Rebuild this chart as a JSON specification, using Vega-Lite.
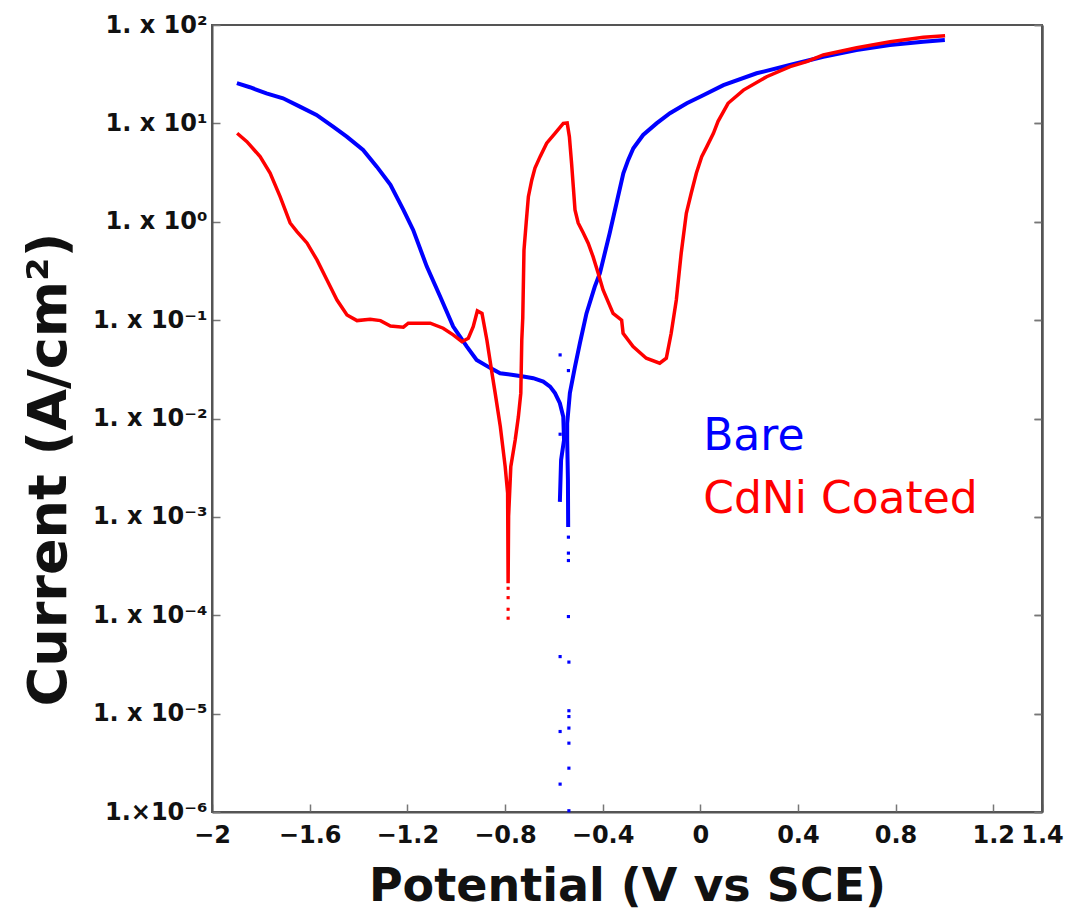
{
  "$schema": "https://vega.github.io/schema/vega-lite/v6.json",
  "width": 830,
  "height": 787,
  "autosize": {"type": "none"},
  "padding": {"left": 212, "top": 25, "right": 27, "bottom": 101},
  "background": "white",
  "config": {
    "view": {"stroke": "#555555", "strokeWidth": 2},
    "font": "DejaVu Sans",
    "axisX": {
      "labelFont": "DejaVu Sans", "labelFontWeight": "bold", "labelFontSize": 24, "labelColor": "#111111",
      "labelPadding": 19, "labelOverlap": false, "labelFlush": false,
      "domainColor": "#555555", "domainWidth": 2,
      "tickColor": "#777777", "tickSize": -8, "tickWidth": 1.5,
      "grid": false,
      "titleFont": "DejaVu Sans", "titleFontSize": 46, "titleFontWeight": "bold", "titleColor": "#111111",
      "titleY": 52, "titleBaseline": "top"
    }
  },
  "datasets": {
    "lines": [
      {"s":"Bare","g":"b1","i":1,"v":-1.898,"c":25.6},
      {"s":"Bare","g":"b1","i":2,"v":-1.845,"c":23.3},
      {"s":"Bare","g":"b1","i":3,"v":-1.777,"c":20.2},
      {"s":"Bare","g":"b1","i":4,"v":-1.709,"c":18.0},
      {"s":"Bare","g":"b1","i":5,"v":-1.640,"c":14.8},
      {"s":"Bare","g":"b1","i":6,"v":-1.572,"c":12.2},
      {"s":"Bare","g":"b1","i":7,"v":-1.504,"c":9.25},
      {"s":"Bare","g":"b1","i":8,"v":-1.448,"c":7.33},
      {"s":"Bare","g":"b1","i":9,"v":-1.381,"c":5.37},
      {"s":"Bare","g":"b1","i":10,"v":-1.325,"c":3.63},
      {"s":"Bare","g":"b1","i":11,"v":-1.269,"c":2.37},
      {"s":"Bare","g":"b1","i":12,"v":-1.216,"c":1.32},
      {"s":"Bare","g":"b1","i":13,"v":-1.176,"c":0.826},
      {"s":"Bare","g":"b1","i":14,"v":-1.120,"c":0.350},
      {"s":"Bare","g":"b1","i":15,"v":-1.065,"c":0.173},
      {"s":"Bare","g":"b1","i":16,"v":-1.012,"c":0.0859},
      {"s":"Bare","g":"b1","i":17,"v":-0.956,"c":0.0538},
      {"s":"Bare","g":"b1","i":18,"v":-0.916,"c":0.0394},
      {"s":"Bare","g":"b1","i":19,"v":-0.861,"c":0.0327},
      {"s":"Bare","g":"b1","i":20,"v":-0.820,"c":0.0288},
      {"s":"Bare","g":"b1","i":21,"v":-0.766,"c":0.0277},
      {"s":"Bare","g":"b1","i":22,"v":-0.725,"c":0.0267},
      {"s":"Bare","g":"b1","i":23,"v":-0.684,"c":0.0257},
      {"s":"Bare","g":"b1","i":24,"v":-0.643,"c":0.0237},
      {"s":"Bare","g":"b1","i":25,"v":-0.615,"c":0.0211},
      {"s":"Bare","g":"b1","i":26,"v":-0.595,"c":0.0181},
      {"s":"Bare","g":"b1","i":27,"v":-0.575,"c":0.0143},
      {"s":"Bare","g":"b1","i":28,"v":-0.561,"c":0.0104},
      {"s":"Bare","g":"b1","i":29,"v":-0.558,"c":0.00605},
      {"s":"Bare","g":"b1","i":30,"v":-0.570,"c":0.00379},
      {"s":"Bare","g":"b1","i":31,"v":-0.575,"c":0.00142},
      {"s":"Bare","g":"b2","i":32,"v":-0.541,"c":0.000791},
      {"s":"Bare","g":"b2","i":33,"v":-0.542,"c":0.00238},
      {"s":"Bare","g":"b2","i":34,"v":-0.545,"c":0.00605},
      {"s":"Bare","g":"b2","i":35,"v":-0.545,"c":0.00895},
      {"s":"Bare","g":"b2","i":36,"v":-0.534,"c":0.0181},
      {"s":"Bare","g":"b2","i":37,"v":-0.513,"c":0.0337},
      {"s":"Bare","g":"b2","i":38,"v":-0.493,"c":0.0582},
      {"s":"Bare","g":"b2","i":39,"v":-0.466,"c":0.117},
      {"s":"Bare","g":"b2","i":40,"v":-0.432,"c":0.219},
      {"s":"Bare","g":"b2","i":41,"v":-0.411,"c":0.300},
      {"s":"Bare","g":"b2","i":42,"v":-0.371,"c":0.764},
      {"s":"Bare","g":"b2","i":43,"v":-0.343,"c":1.54},
      {"s":"Bare","g":"b2","i":44,"v":-0.315,"c":3.11},
      {"s":"Bare","g":"b2","i":45,"v":-0.295,"c":4.25},
      {"s":"Bare","g":"b2","i":46,"v":-0.274,"c":5.58},
      {"s":"Bare","g":"b2","i":47,"v":-0.234,"c":7.62},
      {"s":"Bare","g":"b2","i":48,"v":-0.179,"c":10.0},
      {"s":"Bare","g":"b2","i":49,"v":-0.124,"c":12.7},
      {"s":"Bare","g":"b2","i":50,"v":-0.055,"c":16.0},
      {"s":"Bare","g":"b2","i":51,"v":0.006,"c":19.0},
      {"s":"Bare","g":"b2","i":52,"v":0.095,"c":24.5},
      {"s":"Bare","g":"b2","i":53,"v":0.231,"c":32.3},
      {"s":"Bare","g":"b2","i":54,"v":0.367,"c":39.2},
      {"s":"Bare","g":"b2","i":55,"v":0.504,"c":47.6},
      {"s":"Bare","g":"b2","i":56,"v":0.640,"c":55.7},
      {"s":"Bare","g":"b2","i":57,"v":0.777,"c":62.6},
      {"s":"Bare","g":"b2","i":58,"v":0.913,"c":67.7},
      {"s":"Bare","g":"b2","i":59,"v":1.002,"c":70.4},
      {"s":"CdNi Coated","g":"r1","i":60,"v":-1.897,"c":7.93},
      {"s":"CdNi Coated","g":"r1","i":61,"v":-1.857,"c":6.52},
      {"s":"CdNi Coated","g":"r1","i":62,"v":-1.803,"c":4.59},
      {"s":"CdNi Coated","g":"r1","i":63,"v":-1.762,"c":3.13},
      {"s":"CdNi Coated","g":"r1","i":64,"v":-1.721,"c":1.80},
      {"s":"CdNi Coated","g":"r1","i":65,"v":-1.680,"c":0.972},
      {"s":"CdNi Coated","g":"r1","i":66,"v":-1.652,"c":0.793},
      {"s":"CdNi Coated","g":"r1","i":67,"v":-1.611,"c":0.609},
      {"s":"CdNi Coated","g":"r1","i":68,"v":-1.570,"c":0.409},
      {"s":"CdNi Coated","g":"r1","i":69,"v":-1.529,"c":0.256},
      {"s":"CdNi Coated","g":"r1","i":70,"v":-1.488,"c":0.160},
      {"s":"CdNi Coated","g":"r1","i":71,"v":-1.447,"c":0.113},
      {"s":"CdNi Coated","g":"r1","i":72,"v":-1.406,"c":0.0989},
      {"s":"CdNi Coated","g":"r1","i":73,"v":-1.352,"c":0.102},
      {"s":"CdNi Coated","g":"r1","i":74,"v":-1.310,"c":0.0989},
      {"s":"CdNi Coated","g":"r1","i":75,"v":-1.269,"c":0.0873},
      {"s":"CdNi Coated","g":"r1","i":76,"v":-1.216,"c":0.0847},
      {"s":"CdNi Coated","g":"r1","i":77,"v":-1.196,"c":0.0930},
      {"s":"CdNi Coated","g":"r1","i":78,"v":-1.106,"c":0.0930},
      {"s":"CdNi Coated","g":"r1","i":79,"v":-1.053,"c":0.0828},
      {"s":"CdNi Coated","g":"r1","i":80,"v":-1.012,"c":0.0708},
      {"s":"CdNi Coated","g":"r1","i":81,"v":-0.976,"c":0.0604},
      {"s":"CdNi Coated","g":"r1","i":82,"v":-0.950,"c":0.0655},
      {"s":"CdNi Coated","g":"r1","i":83,"v":-0.930,"c":0.0859},
      {"s":"CdNi Coated","g":"r1","i":84,"v":-0.913,"c":0.124},
      {"s":"CdNi Coated","g":"r1","i":85,"v":-0.894,"c":0.117},
      {"s":"CdNi Coated","g":"r1","i":86,"v":-0.874,"c":0.0629},
      {"s":"CdNi Coated","g":"r1","i":87,"v":-0.853,"c":0.0288},
      {"s":"CdNi Coated","g":"r1","i":88,"v":-0.840,"c":0.0181},
      {"s":"CdNi Coated","g":"r1","i":89,"v":-0.819,"c":0.00828},
      {"s":"CdNi Coated","g":"r1","i":90,"v":-0.799,"c":0.00324},
      {"s":"CdNi Coated","g":"r1","i":91,"v":-0.789,"c":0.00174},
      {"s":"CdNi Coated","g":"r1","i":92,"v":-0.787,"c":0.000212},
      {"s":"CdNi Coated","g":"r1","i":93,"v":-0.785,"c":0.00101},
      {"s":"CdNi Coated","g":"r1","i":94,"v":-0.776,"c":0.00324},
      {"s":"CdNi Coated","g":"r1","i":95,"v":-0.758,"c":0.00605},
      {"s":"CdNi Coated","g":"r1","i":96,"v":-0.745,"c":0.0104},
      {"s":"CdNi Coated","g":"r1","i":97,"v":-0.735,"c":0.0181},
      {"s":"CdNi Coated","g":"r1","i":98,"v":-0.731,"c":0.0629},
      {"s":"CdNi Coated","g":"r1","i":99,"v":-0.727,"c":0.105},
      {"s":"CdNi Coated","g":"r1","i":100,"v":-0.722,"c":0.516},
      {"s":"CdNi Coated","g":"r1","i":101,"v":-0.713,"c":0.972},
      {"s":"CdNi Coated","g":"r1","i":102,"v":-0.704,"c":1.80},
      {"s":"CdNi Coated","g":"r1","i":103,"v":-0.690,"c":2.66},
      {"s":"CdNi Coated","g":"r1","i":104,"v":-0.677,"c":3.52},
      {"s":"CdNi Coated","g":"r1","i":105,"v":-0.656,"c":4.59},
      {"s":"CdNi Coated","g":"r1","i":106,"v":-0.629,"c":6.28},
      {"s":"CdNi Coated","g":"r1","i":107,"v":-0.595,"c":7.93},
      {"s":"CdNi Coated","g":"r1","i":108,"v":-0.561,"c":10.0},
      {"s":"CdNi Coated","g":"r1","i":109,"v":-0.545,"c":10.1},
      {"s":"CdNi Coated","g":"r1","i":110,"v":-0.536,"c":7.33},
      {"s":"CdNi Coated","g":"r1","i":111,"v":-0.527,"c":3.93},
      {"s":"CdNi Coated","g":"r1","i":112,"v":-0.520,"c":2.27},
      {"s":"CdNi Coated","g":"r1","i":113,"v":-0.513,"c":1.32},
      {"s":"CdNi Coated","g":"r1","i":114,"v":-0.500,"c":0.972},
      {"s":"CdNi Coated","g":"r1","i":115,"v":-0.479,"c":0.769},
      {"s":"CdNi Coated","g":"r1","i":116,"v":-0.459,"c":0.605},
      {"s":"CdNi Coated","g":"r1","i":117,"v":-0.439,"c":0.442},
      {"s":"CdNi Coated","g":"r1","i":118,"v":-0.418,"c":0.300},
      {"s":"CdNi Coated","g":"r1","i":119,"v":-0.398,"c":0.203},
      {"s":"CdNi Coated","g":"r1","i":120,"v":-0.357,"c":0.117},
      {"s":"CdNi Coated","g":"r1","i":121,"v":-0.322,"c":0.100},
      {"s":"CdNi Coated","g":"r1","i":122,"v":-0.316,"c":0.0736},
      {"s":"CdNi Coated","g":"r1","i":123,"v":-0.275,"c":0.0538},
      {"s":"CdNi Coated","g":"r1","i":124,"v":-0.221,"c":0.0410},
      {"s":"CdNi Coated","g":"r1","i":125,"v":-0.166,"c":0.0365},
      {"s":"CdNi Coated","g":"r1","i":126,"v":-0.139,"c":0.0410},
      {"s":"CdNi Coated","g":"r1","i":127,"v":-0.119,"c":0.0736},
      {"s":"CdNi Coated","g":"r1","i":128,"v":-0.098,"c":0.160},
      {"s":"CdNi Coated","g":"r1","i":129,"v":-0.078,"c":0.479},
      {"s":"CdNi Coated","g":"r1","i":130,"v":-0.057,"c":1.22},
      {"s":"CdNi Coated","g":"r1","i":131,"v":-0.037,"c":1.95},
      {"s":"CdNi Coated","g":"r1","i":132,"v":-0.016,"c":3.11},
      {"s":"CdNi Coated","g":"r1","i":133,"v":0.006,"c":4.59},
      {"s":"CdNi Coated","g":"r1","i":134,"v":0.027,"c":5.80},
      {"s":"CdNi Coated","g":"r1","i":135,"v":0.054,"c":7.93},
      {"s":"CdNi Coated","g":"r1","i":136,"v":0.073,"c":10.5},
      {"s":"CdNi Coated","g":"r1","i":137,"v":0.114,"c":16.0},
      {"s":"CdNi Coated","g":"r1","i":138,"v":0.177,"c":21.8},
      {"s":"CdNi Coated","g":"r1","i":139,"v":0.272,"c":29.8},
      {"s":"CdNi Coated","g":"r1","i":140,"v":0.368,"c":37.7},
      {"s":"CdNi Coated","g":"r1","i":141,"v":0.436,"c":42.4},
      {"s":"CdNi Coated","g":"r1","i":142,"v":0.504,"c":49.6},
      {"s":"CdNi Coated","g":"r1","i":143,"v":0.641,"c":58.8},
      {"s":"CdNi Coated","g":"r1","i":144,"v":0.778,"c":67.7},
      {"s":"CdNi Coated","g":"r1","i":145,"v":0.914,"c":75.0},
      {"s":"CdNi Coated","g":"r1","i":146,"v":1.003,"c":77.9}
    ],
    "dots": [
      {"s":"Bare","v":-0.574,"c":0.0443},
      {"s":"Bare","v":-0.540,"c":0.0307},
      {"s":"Bare","v":-0.574,"c":0.00692},
      {"s":"Bare","v":-0.540,"c":0.000622},
      {"s":"Bare","v":-0.540,"c":0.000428},
      {"s":"Bare","v":-0.540,"c":0.000360},
      {"s":"Bare","v":-0.540,"c":0.0000970},
      {"s":"Bare","v":-0.574,"c":0.0000380},
      {"s":"Bare","v":-0.538,"c":0.0000334},
      {"s":"Bare","v":-0.538,"c":0.0000107},
      {"s":"Bare","v":-0.538,"c":0.00000934},
      {"s":"Bare","v":-0.574,"c":0.00000658},
      {"s":"Bare","v":-0.538,"c":0.00000713},
      {"s":"Bare","v":-0.538,"c":0.00000501},
      {"s":"Bare","v":-0.538,"c":0.00000279},
      {"s":"Bare","v":-0.574,"c":0.00000192},
      {"s":"Bare","v":-0.538,"c":0.00000103},
      {"s":"CdNi Coated","v":-0.787,"c":0.000188},
      {"s":"CdNi Coated","v":-0.787,"c":0.000151},
      {"s":"CdNi Coated","v":-0.787,"c":0.000115},
      {"s":"CdNi Coated","v":-0.787,"c":0.0000934}
    ],
    "labels": [
      {"s":"Bare","v":0.012,"c":0.00478},
      {"s":"CdNi Coated","v":0.012,"c":0.001087}
    ]
  },
  "resolve": {"axis": {"y": "independent"}},
  "layer": [
    {
      "data": {"name": "lines"},
      "mark": {"type": "line", "interpolate": "linear"},
      "encoding": {
        "x": {
          "field": "v", "type": "quantitative",
          "scale": {"domain": [-2, 1.4], "nice": false, "zero": false},
          "axis": {
            "orient": "bottom", "title": "Potential (V vs SCE)",
            "values": [-2, -1.6, -1.2, -0.8, -0.4, 0, 0.4, 0.8, 1.2, 1.4],
            "labelExpr": "format(datum.value, '~g')"
          }
        },
        "y": {
          "field": "c", "type": "quantitative",
          "scale": {"type": "log", "domain": [0.000001, 100], "nice": false},
          "axis": {
            "orient": "left",
            "values": [0.000001, 0.00001, 0.0001, 0.001, 0.01, 0.1, 1, 10, 100],
            "labelExpr": "(datum.value < 0.000002 ? '1.×10' : '1. x 10') + ['⁻⁶','⁻⁵','⁻⁴','⁻³','⁻²','⁻¹','⁰','¹','²'][round(log(datum.value)/LN10) + 6]",
            "labelFont": "DejaVu Sans", "labelFontWeight": "bold", "labelFontSize": 24, "labelColor": "#111111",
            "labelPadding": 13, "labelOverlap": false, "labelFlush": false,
            "domainColor": "#555555", "domainWidth": 2,
            "tickColor": "#777777", "tickSize": -8, "tickWidth": 1.5,
            "grid": false,
            "title": "Current (A/cm²)",
            "titleFont": "DejaVu Sans", "titleFontSize": 54, "titleFontWeight": "bold", "titleColor": "#111111",
            "titleX": -136, "titleY": 444
          }
        },
        "color": {"field": "s", "type": "nominal", "scale": {"domain": ["Bare", "CdNi Coated"], "range": ["#0000ff", "#ff0000"]}, "legend": null},
        "strokeWidth": {"field": "s", "type": "nominal", "scale": {"domain": ["Bare", "CdNi Coated"], "range": [4, 3.5]}, "legend": null},
        "detail": {"field": "g"},
        "order": {"field": "i", "type": "quantitative"}
      }
    },
    {
      "data": {"name": "dots"},
      "mark": {"type": "point", "shape": "square", "filled": true, "size": 10, "opacity": 1},
      "encoding": {
        "x": {"field": "v", "type": "quantitative", "scale": {"domain": [-2, 1.4], "nice": false, "zero": false}, "axis": {"orient": "bottom", "title": "Potential (V vs SCE)", "values": [-2, -1.6, -1.2, -0.8, -0.4, 0, 0.4, 0.8, 1.2, 1.4], "labelExpr": "format(datum.value, '~g')"}},
        "y": {
          "field": "c", "type": "quantitative",
          "scale": {"type": "log", "domain": [0.000001, 100], "nice": false},
          "axis": {
            "orient": "right",
            "values": [0.000001, 0.00001, 0.0001, 0.001, 0.01, 0.1, 1, 10, 100],
            "labels": false, "title": null, "grid": false,
            "domainColor": "#555555", "domainWidth": 2,
            "tickColor": "#777777", "tickSize": -8, "tickWidth": 1.5
          }
        },
        "color": {"field": "s", "type": "nominal", "scale": {"domain": ["Bare", "CdNi Coated"], "range": ["#0000ff", "#ff0000"]}, "legend": null}
      }
    },
    {
      "mark": {"type": "rule", "color": "#8c8c8c", "strokeWidth": 2},
      "encoding": {
        "x": {"datum": 0, "type": "quantitative", "axis": {"orient": "bottom", "title": "Potential (V vs SCE)", "values": [-2, -1.6, -1.2, -0.8, -0.4, 0, 0.4, 0.8, 1.2, 1.4], "labelExpr": "format(datum.value, '~g')"}}
      }
    },
    {
      "data": {"name": "labels"},
      "mark": {"type": "text", "font": "DejaVu Sans", "fontSize": 44, "align": "left", "baseline": "alphabetic"},
      "encoding": {
        "x": {"field": "v", "type": "quantitative", "scale": {"domain": [-2, 1.4], "nice": false, "zero": false}, "axis": {"orient": "bottom", "title": "Potential (V vs SCE)", "values": [-2, -1.6, -1.2, -0.8, -0.4, 0, 0.4, 0.8, 1.2, 1.4], "labelExpr": "format(datum.value, '~g')"}},
        "y": {"field": "c", "type": "quantitative", "scale": {"type": "log", "domain": [0.000001, 100], "nice": false}, "axis": {
            "orient": "right",
            "values": [0.000001, 0.00001, 0.0001, 0.001, 0.01, 0.1, 1, 10, 100],
            "labels": false, "title": null, "grid": false,
            "domainColor": "#555555", "domainWidth": 2,
            "tickColor": "#777777", "tickSize": -8, "tickWidth": 1.5
          }},
        "text": {"field": "s", "type": "nominal"},
        "color": {"field": "s", "type": "nominal", "scale": {"domain": ["Bare", "CdNi Coated"], "range": ["#0000ff", "#ff0000"]}, "legend": null}
      }
    }
  ]
}
